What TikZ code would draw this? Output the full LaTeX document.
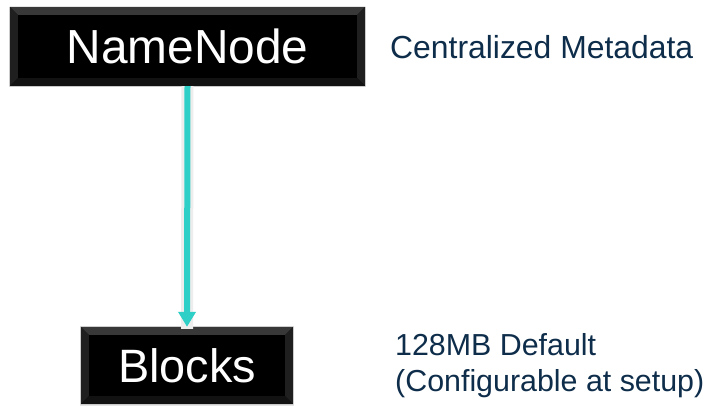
\documentclass[tikz,border=0pt]{standalone}
\usepackage{fontspec}
\setmainfont{Liberation Sans}
\usetikzlibrary{arrows.meta}
\definecolor{arrowteal}{HTML}{2ECFC6}
\definecolor{navytext}{HTML}{0E2D4A}
\newcommand\bevelbox[1]{%
  \fill[black!78] (#1.north west) -- (#1.north east) -- ([shift={(-8,8)}]#1.north east) -- ([shift={(8,8)}]#1.north west) -- cycle;
  \fill[black!88] (#1.north west) -- (#1.south west) -- ([shift={(8,-8)}]#1.south west) -- ([shift={(8,8)}]#1.north west) -- cycle;
  \fill[black!88] (#1.north east) -- (#1.south east) -- ([shift={(-8,-8)}]#1.south east) -- ([shift={(-8,8)}]#1.north east) -- cycle;
  \fill[black!93] (#1.south west) -- (#1.south east) -- ([shift={(-8,-8)}]#1.south east) -- ([shift={(8,-8)}]#1.south west) -- cycle;
  \fill[black] ([shift={(8,8)}]#1.north west) rectangle ([shift={(-8,-8)}]#1.south east);
}
\begin{document}
\begin{tikzpicture}[x=1bp,y=-1bp,
  box/.style={fill=black, inner sep=0pt},
  label/.style={text=white, inner sep=0pt},
  note/.style={inner sep=0pt, text=navytext, anchor=west, align=left},
  shadowbox/.style={fill=black!10},
  link/.style={draw=arrowteal, line width=6bp, -{Triangle[width=17bp,length=15bp]}},
  linkshadow/.style={draw=black!7, line width=12bp}]
\useasboundingbox[fill=white] (0,0) rectangle (714,406);
% shadows
\fill[shadowbox] (9,7) rectangle (366,87);
\fill[shadowbox] (80,326) rectangle (294,406);
% boxes
\node[box, minimum width=355bp, minimum height=79bp] (nn) at (187.5,46.5) {};
\node[box, minimum width=212bp, minimum height=77bp] (bl) at (187,365.5) {};
\bevelbox{nn}
\bevelbox{bl}
\node[label, font=\fontsize{48}{52}\selectfont] (nnt) at (nn.center) {NameNode};
\node[label, font=\fontsize{47}{52}\selectfont] (blt) at (bl.center) {Blocks};
% connector
\draw[linkshadow] (nn.south) -- ([yshift=-2]bl.north);
\draw[link] (nn.south) -- (bl.north);
% notes
\node[note, font=\fontsize{32}{36}\selectfont] (meta) at (390,47) {Centralized Metadata};
\node[note, font=\fontsize{30.5}{36}\selectfont] (blk) at (395,366) {128MB Default\\(Configurable at setup)};
\end{tikzpicture}
\end{document}
